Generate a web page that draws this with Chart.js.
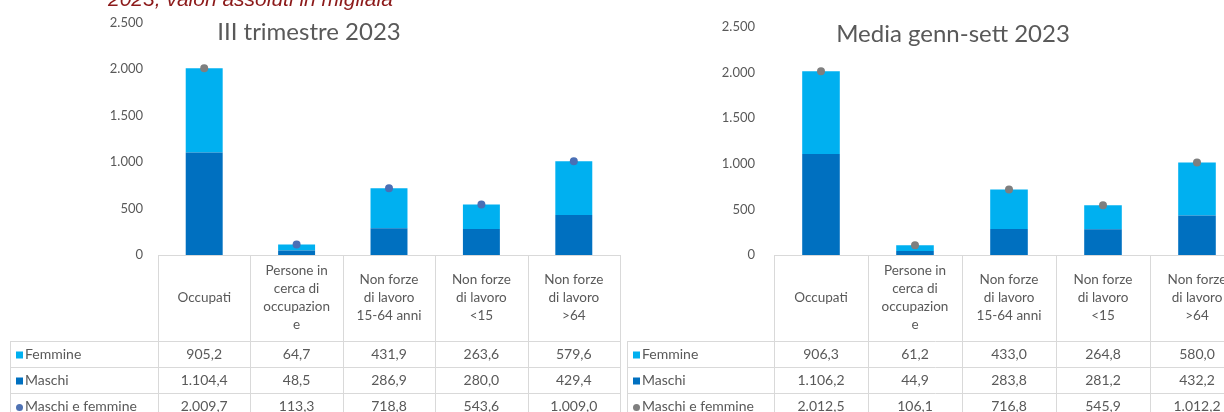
<!DOCTYPE html>
<html>
<head>
<meta charset="utf-8">
<script src="https://cdn.jsdelivr.net/npm/chart.js@4.4.1/dist/chart.umd.min.js"></script>
<style>
  html, body { margin:0; padding:0; background:#fff; width:1224px; height:412px; overflow:hidden; position:relative; }
  canvas { position:absolute; top:0; }
  .sub { position:absolute; left:108px; top:-12px; font:italic 21px "Liberation Sans", Arial, sans-serif; line-height:21px; color:#8c1a1a; white-space:nowrap; }
  .ttl { position:absolute; width:400px; text-align:center; font:24px Lato, "Open Sans", sans-serif; line-height:24px; color:#595959; white-space:nowrap; }
</style>
</head>
<body>
<canvas id="c1" width="624" height="412" style="left:0px"></canvas>
<canvas id="c2" width="624" height="412" style="left:624px"></canvas>
<div class="sub">2023, valori assoluti in migliaia</div>
<div class="ttl" style="left:109px; top:19px">III trimestre 2023</div>
<div class="ttl" style="left:753px; top:21px">Media genn-sett 2023</div>
<script>
// ---- data ----
const categories = [
  ["Occupati"],
  ["Persone in", "cerca di", "occupazion", "e"],
  ["Non forze", "di lavoro", "15-64 anni"],
  ["Non forze", "di lavoro", "<15"],
  ["Non forze", "di lavoro", ">64"]
];
const seriesNames = ["Femmine", "Maschi", "Maschi e femmine"];
const titles = ["III trimestre 2023", "Media genn-sett 2023"];

const q3Femmine = [905.2, 64.7, 431.9, 263.6, 579.6];
const q3Maschi  = [1104.4, 48.5, 286.9, 280.0, 429.4];
const q3Totale  = [2009.7, 113.3, 718.8, 543.6, 1009.0];

const mediaFemmine = [906.3, 61.2, 433.0, 264.8, 580.0];
const mediaMaschi  = [1106.2, 44.9, 283.8, 281.2, 432.2];
const mediaTotale  = [2012.5, 106.1, 716.8, 545.9, 1012.2];

const yMin = 0, yMax = 2500, yStep = 500;

// ---- helpers ----
function fmtInt(v) { return String(Math.round(v)).replace(/\B(?=(\d{3})+(?!\d))/g, "."); }
function fmtDec(v) {
  const parts = v.toFixed(1).split(".");
  return parts[0].replace(/\B(?=(\d{3})+(?!\d))/g, ".") + "," + parts[1];
}

const COL_F = "#00b0f0", COL_M = "#0070c0";
const GRID = "#d9d9d9", TXT = "#595959";
const FONT = "Lato, 'Open Sans', sans-serif";

const tablePlugin = {
  id: "dataTable",
  afterDraw(chart, args, opts) {
    const ctx = chart.ctx;
    const xs = chart.scales.x;
    const n = chart.data.labels.length;
    const colW = xs.getPixelForValue(1) - xs.getPixelForValue(0);
    const edges = [];
    for (let i = 0; i <= n; i++) edges.push(xs.getPixelForValue(0) - colW / 2 + i * colW);
    const top = chart.chartArea.bottom;
    const headBottom = opts.headBottom;
    const rowH = opts.rowH;
    const L = opts.legendLeft;
    const bottom = headBottom + rowH * 3;
    const right = edges[n];
    ctx.save();
    ctx.strokeStyle = GRID;
    ctx.lineWidth = 1;
    ctx.beginPath();
    const hl = (x1, x2, y) => { ctx.moveTo(x1, Math.round(y) + 0.5); ctx.lineTo(x2, Math.round(y) + 0.5); };
    const vl = (x, y1, y2) => { ctx.moveTo(Math.round(x) + 0.5, y1); ctx.lineTo(Math.round(x) + 0.5, y2); };
    hl(edges[0], right, top);
    for (let r = 0; r <= 3; r++) hl(L, right, headBottom + r * rowH);
    edges.forEach(x => vl(x, top, bottom));
    vl(L, headBottom, bottom);
    ctx.stroke();

    // header labels
    ctx.fillStyle = TXT;
    ctx.textAlign = "center";
    ctx.textBaseline = "middle";
    ctx.font = "13.5px " + FONT;
    const lh = 18;
    const midH = (top + headBottom) / 2;
    chart.data.labels.forEach((lab, i) => {
      const lines = Array.isArray(lab) ? lab : [lab];
      const cx = (edges[i] + edges[i + 1]) / 2;
      const y0 = midH - (lines.length - 1) * lh / 2;
      lines.forEach((t, k) => ctx.fillText(t, cx, y0 + k * lh));
    });

    // rows
    const rows = opts.rows;
    ctx.font = "14px " + FONT;
    rows.forEach((row, r) => {
      const cy = headBottom + r * rowH + rowH / 2 + 0.5;
      ctx.fillStyle = row.color;
      if (row.marker === "circle") {
        ctx.beginPath();
        ctx.arc(L + 9.5, cy + 1, 3.5, 0, Math.PI * 2);
        ctx.fill();
      } else {
        ctx.fillRect(L + 6, cy - 3, 7, 7);
      }
      ctx.fillStyle = TXT;
      ctx.textAlign = "left";
      ctx.fillText(row.name, L + 15, cy);
      ctx.textAlign = "center";
      row.values.forEach((v, i) => {
        ctx.fillText(fmtDec(v), (edges[i] + edges[i + 1]) / 2, cy);
      });
    });
    ctx.restore();
  }
};

function makeChart(id, fem, mas, tot, cfg) {
  return new Chart(document.getElementById(id), {
    type: "bar",
    data: {
      labels: categories,
      datasets: [
        { type: "line", label: seriesNames[2], data: tot, showLine: false, stack: "tot", order: 0,
          pointRadius: 4, pointHoverRadius: 4, pointBackgroundColor: cfg.dotColors, pointBorderWidth: 0, borderColor: "transparent" },
        { label: seriesNames[1], data: mas, backgroundColor: COL_M, stack: "s", order: 1,
          barPercentage: 0.4, categoryPercentage: 1 },
        { label: seriesNames[0], data: fem, backgroundColor: COL_F, stack: "s", order: 1,
          barPercentage: 0.4, categoryPercentage: 1 }
      ]
    },
    options: {
      responsive: false,
      animation: false,
      devicePixelRatio: 1,
      layout: { padding: { top: 19, bottom: 157, left: 0, right: cfg.padRight } },
      plugins: {
        legend: { display: false },
        tooltip: { enabled: false },
        dataTable: {
          headBottom: 341, rowH: 26, legendLeft: cfg.legendLeft,
          rows: [
            { name: seriesNames[0], values: fem, color: COL_F, marker: "square" },
            { name: seriesNames[1], values: mas, color: COL_M, marker: "square" },
            { name: seriesNames[2], values: tot, color: cfg.legendDot, marker: "circle" }
          ]
        }
      },
      scales: {
        x: { display: false, stacked: true },
        y: {
          stacked: true, min: yMin, max: yMax,
          grid: { display: false, drawTicks: false },
          border: { display: false },
          ticks: { stepSize: yStep, padding: cfg.tickPad, color: TXT,
                   font: { family: FONT, size: 13 }, callback: v => fmtInt(v) },
          afterFit: s => { s.width = cfg.axisW; }
        }
      }
    },
    plugins: [tablePlugin]
  });
}

makeChart("c1", q3Femmine, q3Maschi, q3Totale, {
  padRight: 1, axisW: 158, tickPad: 15, legendLeft: 10,
  dotColors: ["#7f7f7f", "#4a6fb5", "#4a6fb5", "#4a6fb5", "#4a6fb5"], legendDot: "#4f72b3"
});
makeChart("c2", mediaFemmine, mediaMaschi, mediaTotale, {
  padRight: 1.5, axisW: 150, tickPad: 19, legendLeft: 3,
  dotColors: "#7f7f7f", legendDot: "#7f7f7f"
});
</script>
</body>
</html>
